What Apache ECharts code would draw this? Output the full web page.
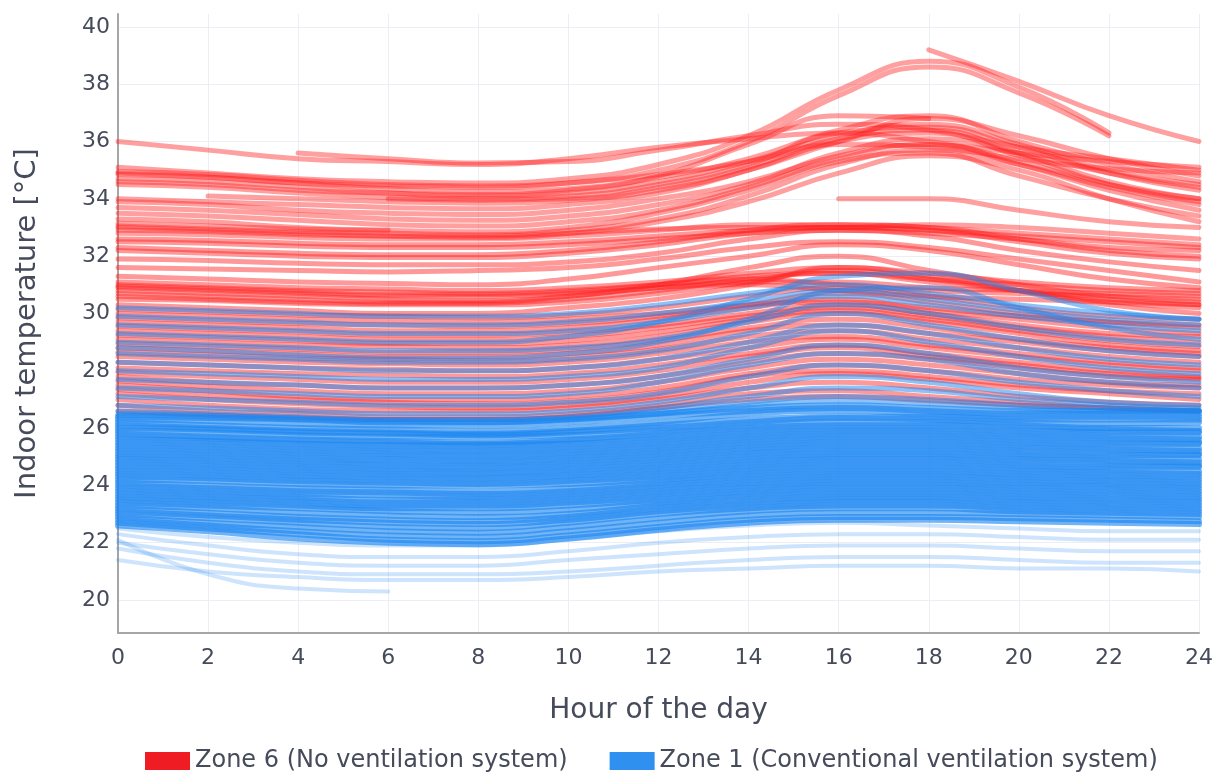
<!DOCTYPE html>
<html>
<head>
<meta charset="utf-8">
<script src="https://cdn.jsdelivr.net/npm/echarts@6/dist/echarts.min.js"></script>
<style>
html,body{margin:0;padding:0;background:#fff;}
#chart{width:1219px;height:775px;}
</style>
</head>
<body>
<div id="chart"></div>
<script>
// Hour of the day at which each curve is sampled
const hours = [0, 2, 4, 6, 8, 10, 12, 14, 16, 18, 20, 22, 24];
const xTicks = [0, 2, 4, 6, 8, 10, 12, 14, 16, 18, 20, 22, 24];
const yTicks = [20, 22, 24, 26, 28, 30, 32, 34, 36, 38, 40];

const zone6Name = 'Zone 6 (No ventilation system)';
const zone1Name = 'Zone 1 (Conventional ventilation system)';

// Zone 6 daily indoor temperature curves (°C)
const zone6Upper = [
  [36.0,35.7,35.4,35.3,35.2,35.4,35.8,36.1,36.3,36.0,35.6,35.3,35.1],
  [null,null,35.6,35.4,35.25,35.3,35.7,36.2,36.6,36.4,35.8,35.4,35.0],
  [35.1,34.9,34.7,34.6,34.55,34.7,35.2,36.2,37.8,38.8,37.9,36.3,null],
  [34.95,34.85,34.65,34.5,34.45,34.55,34.85,35.3,35.9,35.8,35.4,35.05,34.9],
  [34.9,34.75,34.55,34.45,34.4,34.55,35.0,36.0,37.6,38.6,37.7,36.2,null],
  [34.85,34.75,34.55,34.35,34.25,34.35,34.75,35.4,36.4,36.9,36.0,35.2,34.6],
  [34.7,34.6,34.4,34.2,34.1,34.2,34.6,35.3,36.2,36.6,35.9,35.0,34.5],
  [34.6,34.5,34.3,34.2,34.15,34.3,34.8,35.9,36.9,36.8,null,null,null],
  [34.5,34.4,34.2,34.05,34.0,34.1,34.5,35.2,36.3,36.5,35.8,34.9,34.3],
  [null,34.1,34.0,33.9,33.85,33.95,34.3,35.0,36.0,36.8,36.2,35.4,34.8],
  [null,null,null,34.0,33.95,34.0,34.4,35.1,36.1,36.4,35.6,34.6,34.0],
  [34.0,33.9,33.8,33.7,33.65,33.8,34.2,35.0,36.0,36.3,35.5,34.5,33.9],
  [33.9,33.8,33.6,33.5,33.45,33.6,34.0,34.6,35.5,35.9,35.3,34.5,34.0],
  [33.7,33.6,33.45,33.3,33.25,33.4,33.8,34.5,35.6,36.1,35.6,34.9,34.4],
  [33.5,33.4,33.25,33.1,33.05,33.2,33.6,34.4,35.4,35.9,35.2,34.3,33.6],
  [33.3,33.2,33.0,32.9,32.85,33.0,33.5,34.3,35.3,35.6,34.8,34.0,33.4],
  [33.15,33.05,32.95,32.9,null,null,null,null,null,null,null,null,null],
  [33.05,32.95,32.85,32.8,32.75,32.9,33.3,34.1,35.2,35.7,35.2,34.4,33.8],
  [33.0,32.9,32.8,32.7,32.65,32.8,33.2,33.9,34.9,35.5,35.0,34.0,33.2],
  [32.9,32.85,32.75,32.7,32.7,32.8,32.95,33.0,33.0,33.1,33.0,32.8,32.6],
  [32.8,32.75,32.65,32.6,32.6,32.7,32.9,33.1,33.1,33.0,32.8,32.6,32.4],
  [null,null,null,null,null,null,null,null,34.0,34.0,33.6,33.2,33.0],
  [null,null,null,null,null,null,null,null,null,39.2,38.1,36.9,36.0]
];
const zone6Middle = [
  [32.6,32.55,32.45,32.4,32.4,32.5,32.7,32.9,33.0,32.9,32.7,32.5,32.3],
  [32.5,32.45,32.35,32.3,32.3,32.4,32.6,32.8,32.9,32.8,32.6,32.3,32.2],
  [32.3,32.2,32.1,32.05,32.05,32.2,32.5,32.9,33.1,33.0,32.6,32.2,32.0],
  [32.2,32.1,32.0,31.95,31.95,32.1,32.4,32.8,33.0,32.9,32.5,32.1,31.9],
  [31.9,31.85,31.75,31.7,31.7,31.8,32.1,32.6,32.9,32.7,32.2,31.8,31.5],
  [31.6,31.55,31.5,31.45,31.5,31.6,31.9,32.3,32.5,32.3,31.9,31.5,31.1],
  [31.3,31.2,31.1,31.05,31.0,31.2,31.6,32.0,32.4,32.2,31.7,31.2,30.9],
  [31.1,31.0,30.9,30.85,30.8,30.9,31.1,31.4,31.6,31.4,31.1,30.9,30.8],
  [31.0,30.9,30.8,30.75,30.7,30.8,31.0,31.2,31.0,30.8,30.7,30.6,30.5],
  [30.95,30.85,30.75,30.65,30.65,30.75,31.0,31.3,31.4,31.2,31.0,30.8,30.7],
  [30.9,30.8,30.7,30.6,30.6,30.7,30.9,31.1,31.1,30.9,30.8,30.7,30.6],
  [30.8,30.7,30.6,30.5,30.45,30.6,30.9,31.0,30.8,30.6,30.5,30.4,30.3],
  [30.7,30.6,30.5,30.4,30.4,30.6,31.0,31.6,32.0,31.5,31.0,30.6,30.4],
  [30.6,30.5,30.4,30.35,30.35,30.5,30.8,31.2,31.4,31.1,30.8,30.5,30.3],
  [30.5,30.45,30.35,30.3,30.3,30.4,30.7,31.1,31.5,31.2,30.8,30.4,30.2],
  [30.3,30.2,30.1,30.0,30.0,30.2,30.5,31.0,31.6,31.3,30.8,30.3,30.0]
];
const zone6Lower = [
  [30.15,30.05,29.95,29.9,29.85,29.95,30.2,30.6,30.9,30.6,30.2,29.9,29.8],
  [30.0,29.9,29.8,29.75,29.7,29.8,30.0,30.3,30.4,30.2,29.9,29.7,29.6],
  [29.85,29.75,29.65,29.6,29.55,29.65,29.9,30.3,30.7,30.4,30.0,29.7,29.5],
  [29.7,29.6,29.5,29.4,29.4,29.5,29.8,30.2,30.5,30.1,29.8,29.5,29.3],
  [29.55,29.45,29.35,29.25,29.25,29.35,29.6,30.0,30.3,30.0,29.6,29.3,29.2],
  [29.4,29.3,29.2,29.1,29.1,29.2,29.5,29.9,30.2,29.9,29.5,29.2,29.0],
  [29.25,29.15,29.05,28.95,28.95,29.05,29.35,29.8,30.1,29.8,29.4,29.05,28.85],
  [29.1,29.0,28.9,28.85,28.8,28.9,29.2,29.7,30.0,29.7,29.3,28.9,28.7],
  [28.95,28.85,28.75,28.65,28.65,28.75,29.05,29.5,29.8,29.5,29.1,28.8,28.6],
  [28.8,28.7,28.6,28.5,28.5,28.6,28.9,29.4,29.6,29.3,29.0,28.7,28.5],
  [28.65,28.55,28.45,28.4,28.35,28.45,28.75,29.2,29.4,29.1,28.8,28.5,28.3],
  [28.5,28.4,28.3,28.25,28.2,28.3,28.6,29.0,29.2,28.9,28.6,28.3,28.1],
  [28.3,28.2,28.1,28.05,28.0,28.1,28.4,28.8,29.1,28.8,28.5,28.2,28.0],
  [28.1,28.0,27.9,27.85,27.8,27.9,28.2,28.6,28.9,28.6,28.3,28.0,27.8],
  [27.95,27.8,27.7,27.6,27.6,27.7,28.0,28.5,28.8,28.5,28.2,27.9,27.75],
  [27.8,27.6,27.5,27.4,27.4,27.5,27.8,28.3,28.6,28.4,28.1,27.8,27.7],
  [27.65,27.45,27.3,27.2,27.2,27.3,27.6,28.1,28.4,28.2,27.9,27.6,27.5],
  [27.5,27.3,27.1,27.0,27.0,27.1,27.4,27.9,28.2,28.0,27.7,27.5,27.4],
  [27.35,27.15,27.0,26.9,26.85,26.95,27.25,27.8,28.0,27.8,27.5,27.3,27.2],
  [27.2,27.0,26.85,26.75,26.7,26.8,27.1,27.6,27.9,27.7,27.4,27.2,27.0],
  [27.0,26.8,26.65,26.6,26.6,26.7,27.0,27.4,27.6,27.4,27.1,26.9,26.8],
  [26.8,26.6,26.5,26.4,26.4,26.5,26.8,27.2,27.3,27.1,26.9,26.7,26.6],
  [26.6,26.45,26.35,26.3,26.3,26.4,26.7,27.0,27.1,26.95,26.8,26.7,26.6]
];

// Zone 1 daily indoor temperature curves (°C)
const zone1Upper = [
  [30.2,30.1,30.0,29.9,29.9,30.0,30.3,30.7,31.0,30.7,30.3,30.0,29.8],
  [29.9,29.8,29.7,29.6,29.6,29.7,30.0,30.4,30.8,30.5,30.1,29.8,29.6],
  [29.6,29.5,29.4,29.3,29.3,29.4,29.7,30.2,30.6,30.3,29.9,29.6,29.4],
  [29.3,29.2,29.1,29.0,29.0,29.2,29.7,30.5,31.3,31.4,30.8,30.1,29.8],
  [29.0,28.9,28.8,28.7,28.7,28.8,29.1,29.7,30.3,30.0,29.5,29.1,28.9],
  [28.8,28.7,28.55,28.45,28.45,28.6,29.0,29.8,30.8,30.9,30.2,29.5,29.1],
  [28.6,28.5,28.4,28.3,28.3,28.4,28.7,29.3,30.0,29.6,29.1,28.7,28.5],
  [28.3,28.2,28.1,28.0,28.0,28.1,28.4,29.0,29.6,29.3,28.8,28.4,28.2],
  [28.0,27.9,27.8,27.7,27.7,27.8,28.1,28.8,29.4,29.0,28.5,28.1,27.9],
  [27.7,27.6,27.5,27.4,27.4,27.5,27.8,28.4,28.9,28.6,28.1,27.8,27.6],
  [27.4,27.3,27.2,27.1,27.1,27.2,27.6,28.2,28.6,28.4,27.9,27.6,27.4],
  [27.1,27.0,26.9,26.8,26.8,26.9,27.2,27.8,28.2,28.0,27.6,27.3,27.1],
  [26.8,26.7,26.6,26.5,26.5,26.6,26.9,27.4,27.8,27.6,27.2,26.9,26.8],
  [26.6,26.5,26.4,26.3,26.3,26.4,26.7,27.1,27.4,27.3,27.0,26.8,26.7],
  [26.5,26.45,26.35,26.3,26.3,26.35,26.6,26.9,27.1,27.0,26.8,26.7,26.6],
  [26.45,26.4,26.3,26.25,26.2,26.3,26.5,26.8,26.95,26.85,26.7,26.6,26.6]
];
const zone1Core = [
  [26.4,26.35,26.3,26.2,26.2,26.3,26.5,26.7,26.8,26.7,26.6,26.6,26.6],
  [26.3,26.25,26.15,26.1,26.1,26.2,26.4,26.6,26.7,26.6,26.5,26.5,26.5],
  [26.2,26.1,26.0,25.95,25.9,26.0,26.2,26.5,26.6,26.5,26.4,26.4,26.4],
  [26.1,26.0,25.9,25.85,25.8,25.9,26.1,26.3,26.4,26.4,26.3,26.3,26.3],
  [26.0,25.95,25.85,25.8,25.75,25.85,26.0,26.2,26.35,26.3,26.2,26.15,26.2],
  [25.9,25.85,25.75,25.7,25.7,25.75,25.9,26.1,26.2,26.2,26.1,26.0,26.0],
  [25.8,25.7,25.6,25.55,25.5,25.6,25.8,26.0,26.1,26.1,26.0,25.95,25.9],
  [25.7,25.65,25.55,25.5,25.45,25.55,25.7,25.9,26.0,26.0,25.9,25.85,25.85],
  [25.6,25.55,25.45,25.4,25.4,25.45,25.6,25.8,25.9,25.9,25.8,25.75,25.7],
  [25.5,25.45,25.35,25.3,25.25,25.35,25.5,25.7,25.8,25.8,25.7,25.65,25.6],
  [25.4,25.35,25.25,25.2,25.2,25.25,25.4,25.6,25.7,25.7,25.6,25.55,25.5],
  [25.3,25.25,25.15,25.1,25.05,25.15,25.3,25.5,25.6,25.6,25.5,25.45,25.45],
  [25.2,25.15,25.05,25.0,25.0,25.05,25.2,25.4,25.5,25.5,25.4,25.35,25.3],
  [25.1,25.05,24.95,24.9,24.85,24.95,25.1,25.3,25.4,25.4,25.3,25.25,25.2],
  [25.0,24.95,24.85,24.8,24.8,24.85,25.0,25.2,25.3,25.3,25.2,25.15,25.1],
  [24.9,24.85,24.75,24.7,24.65,24.75,24.9,25.1,25.2,25.2,25.1,25.05,25.05],
  [24.8,24.75,24.65,24.6,24.6,24.65,24.8,25.0,25.1,25.1,25.0,24.95,24.9],
  [24.7,24.65,24.55,24.5,24.45,24.55,24.7,24.9,25.0,25.0,24.9,24.85,24.8],
  [24.6,24.55,24.45,24.4,24.4,24.45,24.6,24.8,24.9,24.9,24.8,24.75,24.7],
  [24.5,24.45,24.35,24.3,24.25,24.35,24.5,24.7,24.8,24.8,24.7,24.65,24.65],
  [24.4,24.35,24.25,24.2,24.2,24.25,24.4,24.6,24.7,24.7,24.6,24.55,24.5],
  [24.3,24.25,24.15,24.1,24.05,24.15,24.3,24.5,24.6,24.6,24.5,24.45,24.4],
  [24.2,24.15,24.05,24.0,24.0,24.05,24.2,24.4,24.5,24.5,24.4,24.35,24.3],
  [24.1,24.0,23.9,23.85,23.8,23.9,24.1,24.3,24.4,24.4,24.3,24.25,24.2],
  [24.0,23.9,23.8,23.75,23.7,23.8,24.0,24.2,24.3,24.3,24.2,24.15,24.1],
  [23.9,23.8,23.7,23.65,23.6,23.7,23.9,24.1,24.2,24.2,24.1,24.05,24.0],
  [23.8,23.7,23.6,23.5,23.5,23.6,23.8,24.0,24.1,24.1,24.0,23.95,23.9],
  [23.7,23.6,23.5,23.4,23.4,23.5,23.7,23.9,24.0,24.0,23.9,23.85,23.8],
  [23.6,23.5,23.4,23.3,23.3,23.4,23.6,23.8,23.9,23.9,23.8,23.75,23.7],
  [23.5,23.4,23.3,23.2,23.2,23.3,23.5,23.7,23.8,23.8,23.7,23.65,23.6],
  [23.4,23.3,23.2,23.1,23.05,23.15,23.4,23.6,23.7,23.7,23.6,23.55,23.5],
  [23.3,23.2,23.05,22.95,22.9,23.0,23.3,23.5,23.6,23.6,23.5,23.45,23.4],
  [23.2,23.05,22.9,22.8,22.75,22.9,23.2,23.4,23.5,23.5,23.4,23.35,23.3],
  [23.1,22.95,22.8,22.7,22.65,22.8,23.1,23.3,23.4,23.4,23.3,23.25,23.2],
  [23.0,22.85,22.7,22.55,22.5,22.7,23.0,23.2,23.3,23.3,23.2,23.15,23.1],
  [22.9,22.7,22.55,22.4,22.35,22.55,22.85,23.1,23.2,23.2,23.1,23.05,23.0],
  [22.8,22.6,22.4,22.25,22.2,22.4,22.7,22.95,23.05,23.05,23.0,22.95,22.9],
  [22.7,22.5,22.3,22.1,22.05,22.25,22.55,22.8,22.9,22.9,22.85,22.8,22.75],
  [22.6,22.4,22.15,22.0,21.95,22.15,22.45,22.7,22.8,22.8,22.75,22.7,22.65]
];
const zone1Sparse = [
  [22.5,22.2,22.0,21.9,21.9,22.1,22.4,22.6,22.7,22.6,22.5,22.4,22.4],
  [22.3,21.9,21.6,21.5,21.5,21.7,22.0,22.2,22.3,22.3,22.2,22.1,22.1],
  [22.0,21.6,21.3,21.2,21.2,21.4,21.6,21.8,21.9,21.9,21.8,21.7,21.7],
  [21.8,21.3,21.0,20.9,20.9,21.0,21.2,21.4,21.5,21.5,21.4,21.3,21.3],
  [21.4,21.0,20.8,20.7,20.7,20.8,21.0,21.1,21.2,21.2,21.1,21.1,21.0],
  [22.1,20.9,20.4,20.3,null,null,null,null,null,null,null,null,null]
];

const RED = '#ff1c1c';
const BLUE = '#1a86f0';

function makeSeries(list, name, color, width, opacity, z) {
  return list.map(vals => ({
    type: 'line',
    name: name,
    data: hours.map((h, i) => [h, vals[i]]),
    smooth: 0.5,
    symbol: 'none',
    showSymbol: false,
    connectNulls: false,
    silent: true,
    z: z,
    lineStyle: { color: color, width: width, opacity: opacity, cap: 'round' },
    itemStyle: { color: color },
    emphasis: { disabled: true }
  }));
}

const series = [].concat(
  makeSeries(zone6Upper, zone6Name, RED, 5, 0.42, 2),
  makeSeries(zone6Middle, zone6Name, RED, 5, 0.45, 2),
  makeSeries(zone6Lower, zone6Name, RED, 5, 0.45, 2),
  makeSeries(zone1Upper, zone1Name, BLUE, 5, 0.5, 3),
  makeSeries(zone1Core, zone1Name, BLUE, 6, 0.62, 3),
  makeSeries(zone1Sparse, zone1Name, BLUE, 4, 0.22, 3)
);

const FONT = 'DejaVu Sans';
const TXT = '#454b5a';

const chart = echarts.init(document.getElementById('chart'), null, { renderer: 'canvas' });
chart.setOption({
  animation: false,
  backgroundColor: '#ffffff',
  textStyle: { fontFamily: FONT },
  grid: { left: 118, right: 20, top: 14, bottom: 142, containLabel: false },
  legend: {
    top: 749,
    left: 145,
    padding: 0,
    itemWidth: 45,
    itemHeight: 18,
    itemGap: 42,
    selectedMode: false,
    textStyle: { fontFamily: FONT, fontSize: 24, color: TXT },
    data: [
      { name: zone6Name, icon: 'rect', itemStyle: { color: '#f01c24', opacity: 1 } },
      { name: zone1Name, icon: 'rect', itemStyle: { color: '#2f90f0', opacity: 1 } }
    ]
  },
  xAxis: {
    type: 'value',
    min: xTicks[0],
    max: xTicks[xTicks.length - 1],
    interval: 2,
    name: 'Hour of the day',
    nameLocation: 'middle',
    nameGap: 64,
    nameTextStyle: { fontFamily: FONT, fontSize: 28, color: TXT },
    axisLine: { show: true, lineStyle: { color: '#a6a6a6', width: 2 } },
    axisTick: { show: false },
    axisLabel: { fontFamily: FONT, fontSize: 22, color: TXT, margin: 14 },
    splitLine: { show: true, lineStyle: { color: '#ebeef4', width: 1 } }
  },
  yAxis: {
    type: 'value',
    min: 18.85,
    max: 40.45,
    minInterval: 2,
    maxInterval: 2,
    name: 'Indoor temperature [°C]',
    nameLocation: 'middle',
    nameGap: 76,
    nameTextStyle: { fontFamily: FONT, fontSize: 29, color: TXT },
    axisLine: { show: true, lineStyle: { color: '#a6a6a6', width: 2 } },
    axisTick: { show: false },
    axisLabel: {
      fontFamily: FONT, fontSize: 22, color: TXT, margin: 8,
      showMinLabel: false, showMaxLabel: false,
      formatter: v => (yTicks.indexOf(Math.round(v)) >= 0 && Math.abs(v - Math.round(v)) < 1e-6) ? String(Math.round(v)) : ''
    },
    splitLine: { show: true, showMinLine: false, showMaxLine: false, lineStyle: { color: '#ebeef4', width: 1 } }
  },
  series: series
});
</script>
</body>
</html>
